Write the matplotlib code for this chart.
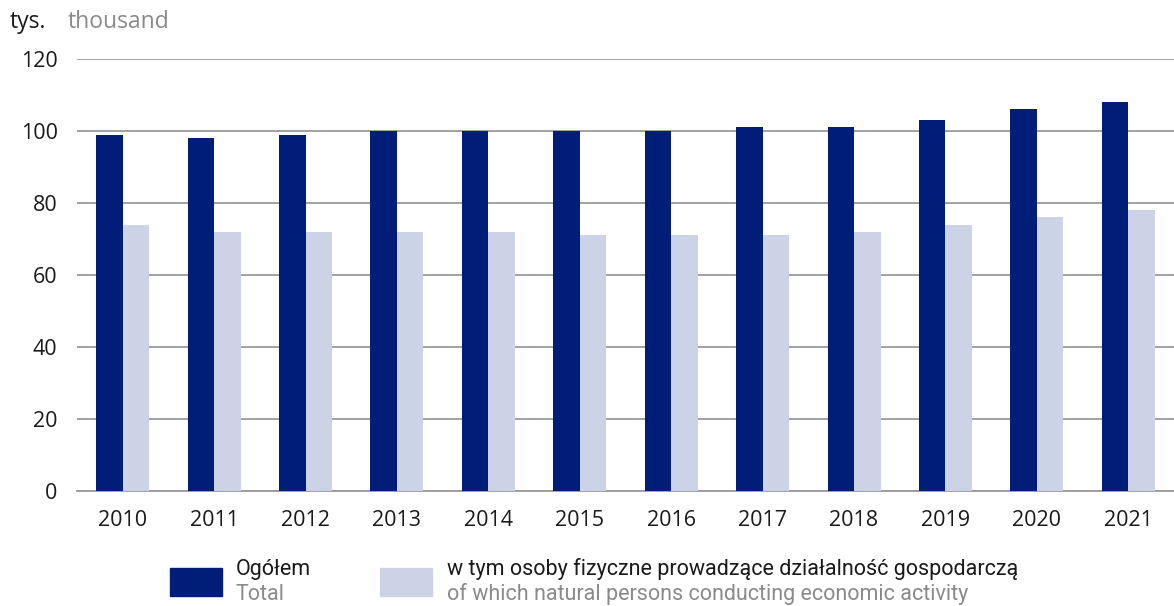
import matplotlib.pyplot as plt
import numpy as np
from matplotlib.patches import Rectangle

# dane
years = ['2010', '2011', '2012', '2013', '2014', '2015', '2016', '2017', '2018', '2019', '2020', '2021']
total = [99, 98, 99, 100, 100, 100, 100, 101, 101, 103, 106, 108]
natural_persons = [74, 72, 72, 72, 72, 71, 71, 71, 72, 74, 76, 78]

dark = '#001E78'
light = '#CDD3E6'
grid_col = '#9A9A9A'

plt.rcParams['font.family'] = ['Open Sans', 'DejaVu Sans']

fig = plt.figure(figsize=(11.74, 6.06), dpi=100)
ax = fig.add_axes([77 / 1174, 1 - 491 / 606, 1 - 77 / 1174, (491 - 59) / 606])

x = np.arange(len(years))
w = 0.29
ax.bar(x - w / 2, total, w, color=dark, zorder=3)
ax.bar(x + w / 2, natural_persons, w, color=light, zorder=3)

ax.set_xlim(-0.5, len(years) - 0.5)
ax.set_ylim(0, 120)
ax.set_yticks(range(0, 121, 20))
ax.set_xticks(x)
ax.set_xticklabels(years)
ax.yaxis.grid(True, color=grid_col, linewidth=1.3, zorder=0)
ax.set_axisbelow(True)
for s in ['top', 'right', 'left']:
    ax.spines[s].set_visible(False)
ax.spines['bottom'].set_color(grid_col)
ax.spines['bottom'].set_linewidth(1.3)
ax.tick_params(axis='both', length=0, labelsize=15.5, colors='#1a1a1a')
ax.tick_params(axis='y', pad=14)
ax.tick_params(axis='x', pad=14)

# jednostka
fig.text(10 / 1174, 1 - 22 / 606, 'tys.', fontsize=16.5, color='#1a1a1a', va='center')
fig.text(68 / 1174, 1 - 22 / 606, 'thousand', fontsize=16.5, color='#8a8a8a', va='center')

# legenda
leg_font = ['Roboto', 'DejaVu Sans']
for (x0, col, pl, en, tx) in [(170, dark, 'Ogółem', 'Total', 236),
                              (380, light, 'w tym osoby fizyczne prowadzące działalność gospodarczą',
                               'of which natural persons conducting economic activity', 447)]:
    fig.patches.append(Rectangle((x0 / 1174, 1 - 596 / 606), 52 / 1174, 28 / 606,
                                 transform=fig.transFigure, color=col))
    fig.text(tx / 1174, 1 - 569 / 606, pl, fontsize=15.5, color='#1a1a1a', va='center', family=leg_font)
    fig.text(tx / 1174, 1 - 594 / 606, en, fontsize=15.5, color='#8a8a8a', va='center', family=leg_font)

fig.savefig('out.png', dpi=100)
